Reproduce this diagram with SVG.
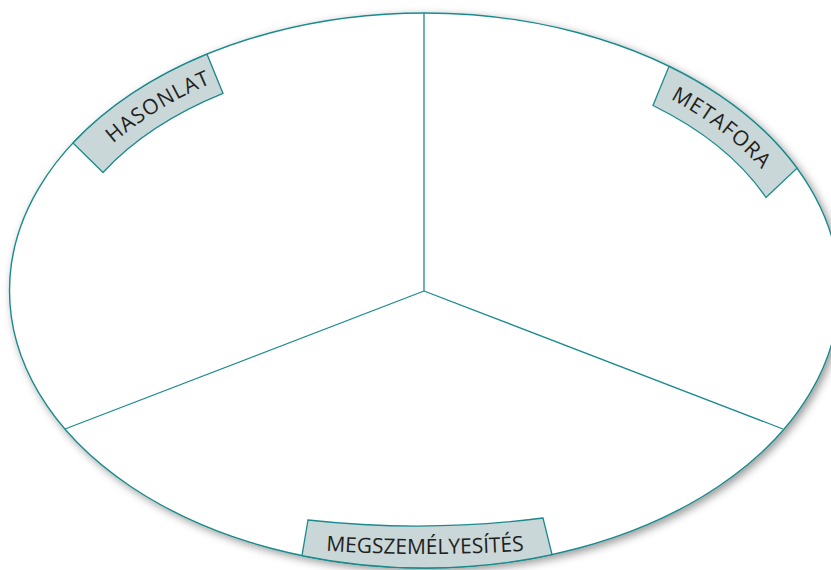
<svg xmlns="http://www.w3.org/2000/svg" width="831" height="570" viewBox="0 0 831 570">
<defs>
<style>
.edge{stroke:#1b8a8c;stroke-width:1.3;fill:none}
.outline{fill:#ffffff;stroke:#1b8a8c;stroke-width:1.4}
.band{fill:#c9d7d9;stroke:#1b8a8c;stroke-width:1.3}
.lbl{font-family:"Open Sans","Liberation Sans",sans-serif;font-size:21px;fill:#231f20}
</style>
<filter id="sh" x="-5%" y="-5%" width="112%" height="115%">
<feDropShadow dx="3" dy="3" stdDeviation="4" flood-color="#000000" flood-opacity="0.4"/>
</filter>
<path id="pH" d="M 51.6 226.2 A 386 248.5 0 0 1 324.6 50.5"/>
<path id="pM" d="M 556.5 57 A 386 248.5 0 0 1 804.6 247.4"/>
<path id="pB" d="M 290 548 A 1520 1520 0 0 0 560 548"/>
</defs>
<g id="frame">
<ellipse class="outline" cx="424.5" cy="290.5" rx="415" ry="277.5" filter="url(#sh)"/>
</g>
<g id="connectors">
<path class="edge" d="M424 291 V13"/>
<path class="edge" d="M424 291 L65 429"/>
<path class="edge" d="M424 291 L783 429"/>
</g>
<g id="hasonlat">
<path class="band" d="M 73 143 A 415 277.5 0 0 1 207 54.2 L 223 93.4 A 372 234.5 0 0 0 103 172.5 Z"/>
<text class="lbl" letter-spacing="1"><textPath href="#pH" startOffset="48%" text-anchor="middle">HASONLAT</textPath></text>
</g>
<g id="metafora">
<path class="band" d="M 669 66.3 A 415 277.5 0 0 1 797 168.2 L 766 197.5 A 372 234.5 0 0 0 653 105.5 Z"/>
<text class="lbl" letter-spacing="1"><textPath href="#pM" startOffset="55%" text-anchor="middle">METAFORA</textPath></text>
</g>
<g id="megszemelyesites">
<path class="band" d="M 308 520 A 990 990 0 0 0 543 518 L 552 554.6 A 415 277.5 0 0 1 302 555.6 Z"/>
<text class="lbl"><textPath href="#pB" startOffset="50%" text-anchor="middle">MEGSZEMÉLYESÍTÉS</textPath></text>
</g>
</svg>
